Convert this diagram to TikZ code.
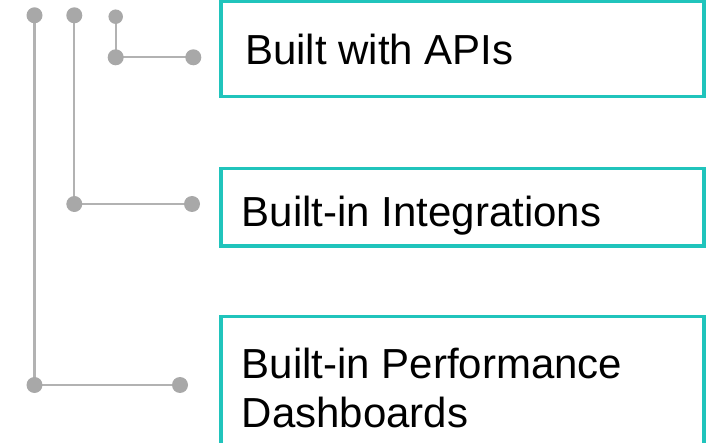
\documentclass[tikz,border=0pt]{standalone}
\usepackage{fontspec}
\setmainfont{Liberation Sans}
\usetikzlibrary{backgrounds}
\definecolor{teal1}{RGB}{32,196,188}
\definecolor{dotgray}{RGB}{168,168,168}
\definecolor{linegray}{RGB}{178,178,178}
\begin{document}
\begin{tikzpicture}[x=1pt,y=-1pt,
  box/.style={draw=teal1,line width=3.3pt,rectangle,inner sep=0pt},
  dot/.style={circle,fill=dotgray,inner sep=0pt,minimum size=16pt},
  smalldot/.style={dot,minimum size=14.5pt},
  link/.style={draw=linegray,line width=2.2pt},
  label/.style={anchor=base west,inner sep=0pt,font=\fontsize{42}{50}\selectfont,align=left}]
\useasboundingbox (0,0) rectangle (712,443);
\clip (0,0) rectangle (712,443);
% boxes
\node[box,minimum width=483pt,minimum height=95.7pt] (b1) at (462.5,48.85) {};
\node[box,minimum width=483pt,minimum height=77.7pt] (b2) at (462.5,207.15) {};
\node[box,minimum width=483pt,minimum height=153.3pt] (b3) at (462.5,393.35) {};
% texts
\node[label] (t1) at (245,65) {Built with APIs};
\node[label] (t2) at (241.7,227) {Built-in Integrations};
\node[label] (t3) at (241.7,428) {Built-in Performance\\Dashboards};
% dots
\node[dot] (d1) at (34.5,15.3) {};
\node[dot] (d2) at (74.3,15.3) {};
\node[smalldot] (d3) at (115.7,16.7) {};
\node[dot] (e3) at (115.7,57.3) {};
\node[dot] (f3) at (193.3,57.3) {};
\node[dot] (e2) at (74.3,204) {};
\node[dot] (f2) at (192,204) {};
\node[dot] (e1) at (34.5,385) {};
\node[dot] (f1) at (180,385) {};
% connectors
\begin{scope}[on background layer]
\draw[link] (d3.center) -- (e3.center) -- (f3.center);
\draw[link] (d2.center) -- (e2.center) -- (f2.center);
\draw[link] (d1.center) -- (e1.center) -- (f1.center);
\end{scope}
\end{tikzpicture}
\end{document}
